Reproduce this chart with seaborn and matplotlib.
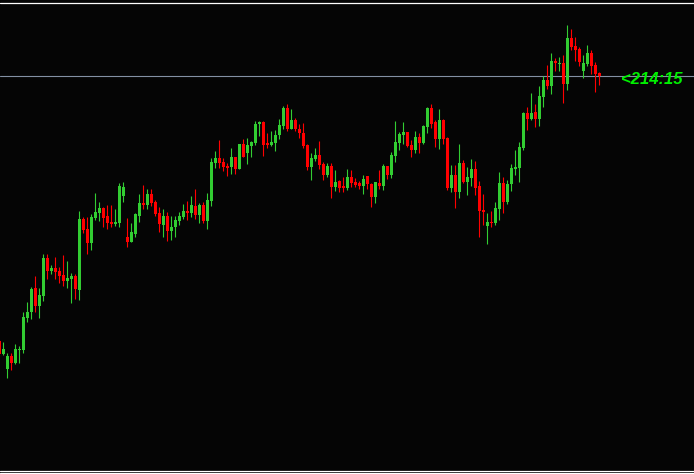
import numpy as np
import pandas as pd
import seaborn as sns
import matplotlib
matplotlib.use('Agg')
import matplotlib.pyplot as plt

# OHLC (one candle per bar, oldest first)
opens = [187.65, 186.35, 184.85, 186.15, 185.45, 186.80, 186.75, 189.95, 190.55, 192.95,
         191.15, 192.15, 195.95, 194.65, 194.95, 194.65, 194.25, 193.65, 193.85, 194.15,
         192.75, 199.85, 198.85, 197.45, 199.95, 200.45, 200.95, 200.15, 199.55, 199.35,
         199.45, 202.15, 198.05, 197.55, 198.35, 200.15, 201.45, 201.25, 202.35, 201.55,
         200.45, 199.25, 200.15, 198.65, 199.05, 199.65, 200.05, 200.65, 200.45, 201.15,
         200.25, 201.25, 199.65, 201.65, 205.45, 205.95, 205.55, 205.15, 205.05, 206.05,
         204.85, 207.35, 206.45, 207.15, 207.45, 209.35, 209.55, 207.45, 207.25, 207.45,
         208.25, 209.15, 210.95, 208.85, 209.75, 208.85, 208.45, 207.25, 205.05, 205.85,
         206.25, 205.35, 204.25, 205.15, 203.05, 203.65, 203.15, 202.95, 204.05, 203.55,
         203.45, 203.15, 204.15, 203.35, 202.05, 203.45, 203.15, 205.15, 204.25, 206.15,
         207.45, 208.25, 208.55, 207.25, 206.75, 208.05, 207.45, 209.05, 210.95, 209.55,
         207.85, 209.75, 207.95, 202.95, 204.25, 202.55, 205.45, 203.55, 203.95, 204.85,
         203.15, 200.75, 199.15, 199.55, 199.45, 200.85, 203.45, 201.55, 203.35, 204.85,
         204.95, 206.95, 210.45, 209.85, 210.55, 209.85, 212.05, 213.75, 213.15, 215.65,
         215.35, 215.45, 213.35, 217.95, 217.15, 216.85, 214.65, 215.35, 216.45, 215.25,
         214.45]
highs = [187.75, 187.55, 186.45, 186.45, 187.35, 187.15, 190.55, 191.55, 193.05, 194.15,
         192.95, 196.35, 196.35, 195.25, 196.05, 195.05, 196.25, 195.65, 194.45, 194.35,
         200.65, 200.05, 200.05, 200.35, 202.45, 201.55, 201.05, 201.25, 201.25, 200.85,
         203.45, 203.55, 199.95, 199.45, 200.45, 202.35, 203.25, 202.85, 202.85, 201.75,
         201.05, 200.85, 200.55, 200.15, 200.15, 200.55, 201.35, 201.65, 202.15, 202.85,
         201.45, 201.55, 202.45, 205.95, 206.65, 207.75, 205.95, 205.45, 206.95, 206.05,
         207.35, 207.85, 207.95, 207.65, 209.65, 209.65, 209.65, 208.45, 208.65, 208.75,
         209.85, 211.15, 211.35, 210.85, 209.95, 209.35, 209.45, 207.35, 206.45, 206.95,
         207.65, 205.55, 205.45, 205.45, 204.75, 203.75, 204.05, 204.85, 204.75, 203.95,
         203.65, 204.25, 204.15, 203.45, 203.55, 204.75, 205.35, 205.15, 206.55, 209.65,
         208.55, 209.55, 208.55, 207.75, 208.65, 208.45, 209.25, 211.05, 211.35, 209.75,
         210.85, 209.85, 208.05, 205.25, 205.25, 207.35, 205.75, 205.05, 205.85, 205.65,
         203.65, 202.35, 200.45, 200.65, 201.55, 204.55, 204.05, 203.75, 205.35, 206.75,
         207.55, 210.55, 211.05, 212.45, 211.35, 213.15, 214.15, 215.25, 216.45, 215.95,
         216.05, 216.25, 219.25, 218.85, 218.05, 217.05, 216.25, 217.25, 216.75, 215.55,
         214.55]
lows = [186.15, 186.25, 183.95, 184.75, 185.35, 185.45, 186.45, 189.55, 189.85, 190.55,
        189.95, 191.65, 193.85, 194.35, 193.85, 193.45, 193.15, 192.95, 191.45, 191.85,
        191.75, 198.45, 196.35, 196.75, 199.75, 199.65, 199.05, 198.85, 199.05, 199.15,
        199.05, 201.55, 197.05, 197.55, 198.05, 199.55, 200.85, 200.85, 201.15, 200.15,
        198.55, 198.05, 197.65, 197.75, 198.05, 199.25, 199.85, 199.75, 200.05, 199.85,
        199.45, 199.45, 198.85, 201.15, 204.95, 204.95, 204.65, 204.15, 204.35, 204.35,
        204.85, 206.05, 205.35, 206.05, 207.25, 208.15, 206.15, 206.95, 207.15, 206.65,
        207.85, 208.85, 208.65, 208.85, 208.65, 207.95, 206.95, 204.75, 203.75, 205.65,
        204.85, 203.75, 204.05, 201.95, 202.65, 202.55, 202.55, 202.75, 203.05, 203.05,
        202.85, 202.35, 202.85, 201.05, 201.45, 202.85, 202.75, 203.85, 203.95, 205.55,
        206.75, 207.35, 207.05, 206.05, 206.45, 206.45, 207.35, 208.45, 208.95, 207.05,
        206.85, 207.35, 202.75, 202.55, 200.95, 201.95, 203.45, 202.25, 203.15, 202.25,
        198.05, 199.25, 197.35, 199.05, 199.25, 199.75, 200.45, 201.35, 202.65, 204.25,
        203.55, 206.75, 208.75, 209.75, 209.05, 209.15, 211.05, 212.85, 212.35, 214.65,
        214.65, 211.45, 212.75, 216.75, 215.65, 215.15, 213.95, 215.15, 214.35, 212.55,
        213.25]
closes = [186.35, 186.85, 186.15, 185.45, 186.85, 186.85, 190.05, 190.55, 192.85, 191.15,
          192.25, 195.95, 194.65, 194.95, 194.55, 194.15, 193.65, 193.95, 194.15, 192.85,
          199.85, 198.75, 197.45, 200.05, 200.55, 200.95, 199.95, 199.45, 199.35, 199.55,
          203.15, 203.05, 197.55, 198.55, 200.35, 201.45, 201.25, 202.35, 201.45, 200.35,
          199.35, 200.15, 198.65, 199.05, 199.75, 200.15, 200.65, 200.45, 201.25, 200.25,
          201.25, 199.65, 201.75, 205.55, 205.95, 205.45, 205.05, 204.95, 206.05, 204.85,
          207.35, 206.05, 207.25, 207.55, 209.35, 209.55, 207.25, 207.25, 207.55, 208.25,
          209.25, 210.95, 208.85, 209.75, 208.85, 208.45, 207.15, 205.05, 205.95, 206.25,
          205.25, 204.25, 205.15, 203.05, 203.55, 202.95, 202.95, 204.05, 203.45, 203.25,
          203.15, 203.85, 203.35, 202.05, 203.55, 203.15, 205.15, 204.25, 206.25, 207.55,
          208.35, 208.55, 207.15, 206.75, 208.05, 207.45, 209.15, 210.95, 209.35, 207.85,
          209.75, 207.85, 202.95, 204.25, 202.55, 205.45, 203.55, 204.05, 204.85, 202.95,
          200.65, 200.55, 199.55, 199.45, 200.95, 203.45, 201.55, 203.35, 204.95, 205.05,
          207.05, 210.45, 209.85, 210.45, 209.85, 212.15, 213.75, 213.15, 215.65, 215.45,
          215.45, 213.35, 217.95, 217.05, 216.75, 215.55, 215.45, 216.45, 215.15, 214.35,
          214.15]
price_label = '<214:15'

df = pd.DataFrame(dict(open=opens, high=highs, low=lows, close=closes))
df['bar'] = np.arange(len(df))
df['up'] = df.close >= df.open
df['body_lo'] = df[['open', 'close']].min(axis=1)
df['body_h'] = (df.close - df.open).abs().clip(lower=0.1)

bg = '#050505'
green, red = '#32cd32', '#ff0000'
sns.set_style('dark', {'axes.facecolor': bg, 'figure.facecolor': bg,
                       'axes.edgecolor': bg, 'axes.grid': False})

fig = plt.figure(figsize=(6.94, 4.74), dpi=100)
ax = fig.add_axes([0, 0, 1, 1])
ax.set_facecolor(bg)

cols = np.where(df.up, green, red)
ax.vlines(df.bar, df.low, df.high, colors=cols, lw=0.8, zorder=2)
ax.bar(df.bar, df.body_h, bottom=df.body_lo, width=0.75, color=cols,
       linewidth=0, zorder=3)

# current price line and tag
last = df.close.iloc[-1]
ax.axhline(last, color='#8390a3', lw=0.8, zorder=1)
ax.annotate(price_label, xy=(df.bar.iloc[-1], last), xytext=(22, -4),
            textcoords='offset pixels', va='center', ha='left',
            color='#00f000', fontsize=12, fontweight='bold', style='italic',
            family='Liberation Sans')

# window borders
for yy in (1 - 2.5 / 474, 1 - 470.5 / 474, 1 - 472.8 / 474):
    ax.plot([0, 1], [yy, yy], transform=ax.transAxes, color='white', lw=0.9,
            zorder=5, clip_on=False)

ax.set_xlim(0.175, 173.675)
ax.set_ylim(174.35, 221.75)
ax.set_xticks([])
ax.set_yticks([])
for s in ax.spines.values():
    s.set_visible(False)

plt.savefig('out.png', dpi=100, facecolor=bg)
plt.close()
